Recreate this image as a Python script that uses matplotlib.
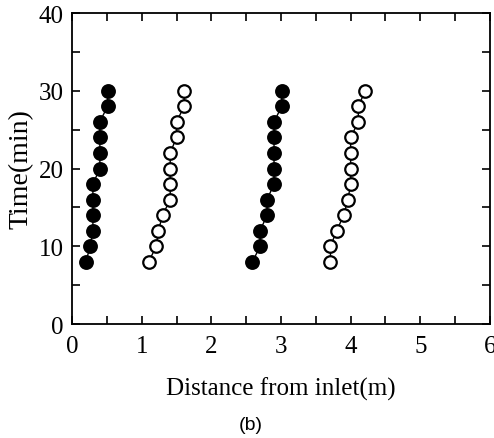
import matplotlib
matplotlib.use("Agg")
import matplotlib.pyplot as plt
from matplotlib.ticker import MultipleLocator

plt.rcParams['font.family'] = ['Liberation Serif', 'DejaVu Serif']

# Time (min) of each measurement
time = [8, 10, 12, 14, 16, 18, 20, 22, 24, 26, 28, 30]

# distance from inlet (m), four fronts
front1_filled = [0.20, 0.26, 0.30, 0.30, 0.30, 0.30, 0.40, 0.40, 0.40, 0.40, 0.51, 0.51]
front1_open = [1.10, 1.21, 1.24, 1.30, 1.41, 1.41, 1.41, 1.41, 1.50, 1.50, 1.61, 1.61]
front2_filled = [2.59, 2.70, 2.70, 2.80, 2.80, 2.90, 2.90, 2.90, 2.90, 2.90, 3.01, 3.01]
front2_open = [3.71, 3.71, 3.80, 3.90, 3.96, 4.00, 4.00, 4.00, 4.00, 4.11, 4.11, 4.21]

fig = plt.figure(figsize=(4.94, 4.39), dpi=100)
ax = fig.add_axes([72/494, 1-325/439, (490-72)/494, (325-14)/439])

for xs in (front1_filled, front2_filled):
    ax.plot(xs, time, 'k-', lw=1, marker='o', ms=9.5, mfc='k', mec='k', mew=1.2)
for xs in (front1_open, front2_open):
    ax.plot(xs, time, 'k-', lw=1, marker='o', ms=9, mfc='w', mec='k', mew=1.6)

ax.set_xlim(0, 6)
ax.set_ylim(0, 40)
ax.xaxis.set_major_locator(MultipleLocator(1))
ax.xaxis.set_minor_locator(MultipleLocator(0.5))
ax.yaxis.set_major_locator(MultipleLocator(10))
ax.yaxis.set_minor_locator(MultipleLocator(5))
ax.tick_params(which='both', direction='in', top=True, right=True, width=1.2)
ax.tick_params(which='major', length=6, labelsize=18)
ax.tick_params(axis='x', which='major', pad=8)
ax.tick_params(axis='y', which='major', pad=6)
ax.tick_params(which='minor', length=6)
for s in ax.spines.values():
    s.set_linewidth(1.3)

ax.set_xlabel("Distance from inlet(m)", fontsize=18)
ax.xaxis.set_label_coords(0.5, -0.17)
ax.set_ylabel("Time(min)", fontsize=20)
ax.yaxis.set_label_coords(-0.092, 0.5)

fig.text(251/494, 1-426/439, "(b)", family='Liberation Sans', fontsize=14, ha='center', va='center')

fig.savefig("out.png", dpi=100)
